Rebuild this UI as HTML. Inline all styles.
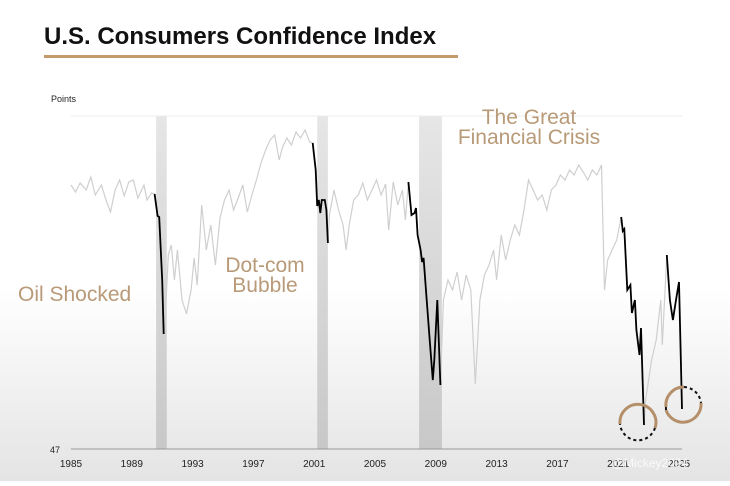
<!DOCTYPE html>
<html><head><meta charset="utf-8"><style>
body{margin:0;width:730px;height:481px;overflow:hidden;background:#fff;font-family:"Liberation Sans",sans-serif}
</style></head><body>
<svg width="730" height="481">
<defs>
<linearGradient id="bg" x1="0" y1="0" x2="0" y2="1">
<stop offset="0" stop-color="#fff"/><stop offset="0.6" stop-color="#fff"/><stop offset="1" stop-color="#e4e4e4"/></linearGradient>
<linearGradient id="band" x1="0" y1="0" x2="0" y2="1">
<stop offset="0" stop-color="#e6e6e6"/><stop offset="1" stop-color="#c8c8c8"/></linearGradient>
</defs>
<rect width="730" height="481" fill="url(#bg)"/>
<text x="44" y="44" font-size="24" font-weight="bold" fill="#111">U.S. Consumers Confidence Index</text>
<rect x="44" y="55" width="414" height="3" fill="#c49a6c"/>
<text x="51" y="102" font-size="9" fill="#222">Points</text>
<g id="bands"></g>
<line x1="71" y1="116" x2="682" y2="116" stroke="#eee"/>
<line x1="71" y1="449" x2="682" y2="449" stroke="#999"/>
<text x="50" y="453" font-size="9" fill="#222">47</text>
<g id="ticks"></g>
<g id="lines"></g>
<text x="18" y="301" font-size="21" fill="#b89a78">Oil Shocked</text>
<text x="265" y="272" font-size="21" fill="#b89a78" text-anchor="middle">Dot-com</text>
<text x="265" y="292" font-size="21" fill="#b89a78" text-anchor="middle">Bubble</text>
<text x="529" y="124" font-size="21" fill="#b89a78" text-anchor="middle">The Great</text>
<text x="529" y="144" font-size="21" fill="#b89a78" text-anchor="middle">Financial Crisis</text>
<g>
<path d="M620,424 A18,18 0 1,1 655,428" fill="none" stroke="#b48f6a" stroke-width="3"/>
<path d="M655,428 A18,18 0 0,1 620,424" fill="none" stroke="#111" stroke-width="2" stroke-dasharray="3,3"/>
</g>
<g>
<path d="M666,407 A18,18 0 0,1 684,387 M701,403 A18,18 0 0,1 666,410" fill="none" stroke="#b48f6a" stroke-width="3"/>
<path d="M684,387 A18,18 0 0,1 701,403" fill="none" stroke="#111" stroke-width="2" stroke-dasharray="3,3"/>
<path d="M666,410 A18,18 0 0,1 666,407" fill="none" stroke="#111" stroke-width="2" stroke-dasharray="3,3"/>
</g>
<text x="612" y="467" font-size="12" fill="#fff" opacity="0.8">@Mickey2024</text>
</svg>
<script>
const years=[1985,1985.3,1985.6,1986,1986.3,1986.6,1987,1987.3,1987.6,1987.9,1988.2,1988.5,1988.8,1989.1,1989.4,1989.8,1990,1990.3,1990.5,1990.7,1990.8,1991,1991.1,1991.2,1991.4,1991.6,1991.8,1992,1992.3,1992.6,1992.9,1993.1,1993.3,1993.6,1993.9,1994.2,1994.5,1994.8,1995.1,1995.4,1995.7,1996,1996.3,1996.6,1996.9,1997.2,1997.5,1997.8,1998.1,1998.4,1998.7,1998.9,1999.2,1999.5,1999.8,2000.1,2000.4,2000.7,2000.9,2001.1,2001.2,2001.3,2001.4,2001.5,2001.7,2001.8,2001.9,2002,2002.3,2002.6,2002.9,2003.1,2003.3,2003.6,2003.9,2004.2,2004.5,2004.8,2005.1,2005.4,2005.7,2005.9,2006.2,2006.5,2006.8,2007,2007.2,2007.4,2007.6,2007.7,2007.8,2008,2008.1,2008.2,2008.4,2008.6,2008.8,2008.9,2009.1,2009.3,2009.5,2009.8,2010.1,2010.4,2010.7,2011,2011.3,2011.6,2011.9,2012.2,2012.5,2012.8,2013,2013.3,2013.6,2013.9,2014.2,2014.5,2014.8,2015.1,2015.4,2015.7,2016,2016.3,2016.6,2016.9,2017.2,2017.5,2017.8,2018.1,2018.4,2018.7,2019,2019.3,2019.6,2019.9,2020.1,2020.3,2020.6,2020.9,2021.2,2021.3,2021.4,2021.6,2021.8,2021.9,2022.1,2022.2,2022.4,2022.5,2022.7,2022.8,2023,2023.2,2023.5,2023.8,2023.9,2024.2,2024.4,2024.6,2024.8,2025,2025.2];
const values=[99.8,98.4,100.2,98.8,101.4,97.8,99.8,96.8,94.4,98.8,100.8,97.6,100.4,100.8,97.2,99.8,96.8,98.2,98,93.6,93.4,80.8,70,73.2,85.8,87.8,80.8,86.8,76.8,74,78.8,85.2,79.8,95.8,86.8,91.8,83.8,93.2,96.8,98.8,94.8,97.2,99.8,94.4,97.8,100.8,104.2,106.8,108.8,109.8,104.8,107.2,109.2,107.8,110.4,109.2,110.8,108.4,108.2,102.8,95.6,96.8,94.2,96.8,96.8,94.8,88.2,93.8,98.8,94.8,91.8,86.8,91.8,96.8,97.8,100.2,96.8,98.8,100.8,97.8,100,90.8,100.4,95.8,98.8,92.8,100.4,93.8,94.2,95.2,89.8,86.8,84.4,85.2,76.8,68.8,60.8,64.8,76.8,59.8,76.8,80.8,78.8,82.4,76.8,81.8,78.8,60,76.8,81.8,83.8,86.8,80.8,89.8,84.8,88.8,91.8,89.8,94.8,100.8,98.8,96.8,97.8,94.8,98.8,99.8,101.8,100.8,102.8,101.8,103.8,102.4,100.8,102.8,101.8,103.8,78.8,84.8,86.8,88.8,93.4,90.6,91,78.8,79.8,74.2,76.8,70.8,65.8,71.2,51.8,56.8,60.8,64.8,68.8,76.8,67.8,85.8,76.8,72.8,76.8,80.4,55];
const highlights=[[1990.5,1991.1],[2000.9,2001.9],[2007.2,2009.3],[2021.2,2022.7],[2024.2,2025.2]];
const recessions=[[1990.6,1991.3],[2001.2,2001.9],[2007.9,2009.4]];
const tickYears=[1985,1989,1993,1997,2001,2005,2009,2013,2017,2021,2025];
const NS='http://www.w3.org/2000/svg';
function xS(yr){return 71+(yr-1985)*15.2;}
function yS(v){return 449-(v-47)*5;}
const bands=document.getElementById('bands');
recessions.forEach(r=>{const e=document.createElementNS(NS,'rect');
e.setAttribute('x',xS(r[0]));e.setAttribute('y',116);e.setAttribute('width',xS(r[1])-xS(r[0]));e.setAttribute('height',333);e.setAttribute('fill','url(#band)');


bands.appendChild(e);});
const ticks=document.getElementById('ticks');
tickYears.forEach(t=>{const e=document.createElementNS(NS,'text');
e.setAttribute('x',xS(t));e.setAttribute('y',467);e.setAttribute('font-size','10');e.setAttribute('text-anchor','middle');e.setAttribute('fill','#222');e.textContent=t;


ticks.appendChild(e);});
const lines=document.getElementById('lines');
function pathFor(f){let d='';years.forEach((y,i)=>{if(f(y))d+=(d?'L':'M')+xS(y).toFixed(1)+','+yS(values[i]).toFixed(1);});return d;}
const g=document.createElementNS(NS,'path');
g.setAttribute('d',pathFor(()=>true));g.setAttribute('fill','none');g.setAttribute('stroke','#cfcfcf');g.setAttribute('stroke-width','1.2');


lines.appendChild(g);
highlights.forEach(h=>{const p=document.createElementNS(NS,'path');
p.setAttribute('d',pathFor(y=>y>=h[0]-1e-6&&y<=h[1]+1e-6));p.setAttribute('fill','none');p.setAttribute('stroke','#000');p.setAttribute('stroke-width','1.8');


lines.appendChild(p);});
</script>
</body></html>
